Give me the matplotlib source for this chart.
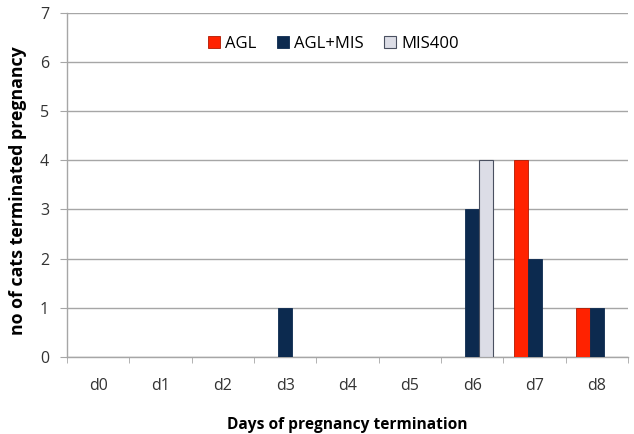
import numpy as np
import matplotlib.pyplot as plt

# -----------------------------
# Data
# -----------------------------
days = ["d0", "d1", "d2", "d3", "d4", "d5", "d6", "d7", "d8"]
agl = [0, 0, 0, 0, 0, 0, 0, 4, 1]
agl_mis = [0, 0, 0, 1, 0, 0, 3, 2, 1]
mis400 = [0, 0, 0, 0, 0, 0, 4, 0, 0]

plt.rcParams['font.family'] = ['Open Sans', 'DejaVu Sans']

fig = plt.figure(figsize=(6.34, 4.34), dpi=100)
ax = fig.add_axes([0.1057, 0.177, 0.885, 0.794])

x = np.arange(len(days))
w = 0.225
grid_c = "#a6a6a6"
txt_c = "#333333"


def nz(v):
    # Excel does not draw zero-height bars
    v = np.asarray(v, float)
    return np.where(v > 0, v, np.nan)


ax.bar(x - w, nz(agl), w, color="#ff2200", edgecolor="#b01800", lw=0.6, label="AGL", zorder=3)
ax.bar(x, nz(agl_mis), w, color="#0c2a4f", edgecolor="#0c2a4f", lw=0.6, label="AGL+MIS", zorder=3)
ax.bar(x + w, nz(mis400), w, color="#dcdde6", edgecolor="#4a5060", lw=0.8, label="MIS400", zorder=3)

ax.set_xlim(-0.5, len(days) - 0.5)
ax.set_ylim(0, 7)
ax.set_yticks(range(0, 8))
ax.set_xticks(x)
ax.set_xticklabels(days)
ax.set_xticks(np.arange(-0.5, len(days)), minor=True)
ax.tick_params(axis="x", which="major", length=0, pad=15, labelsize=11.5, colors=txt_c)
ax.tick_params(axis="x", which="minor", length=4, color=grid_c, direction="out")
ax.tick_params(axis="y", length=5, color=grid_c, labelsize=11.5, colors=txt_c, pad=8)

ax.yaxis.grid(True, color=grid_c, lw=1.0, zorder=0)
ax.set_axisbelow(True)
for s in ["top", "right"]:
    ax.spines[s].set_visible(False)
for s in ["left", "bottom"]:
    ax.spines[s].set_color(grid_c)
    ax.spines[s].set_linewidth(1.0)

ax.set_xlabel("Days of pregnancy termination", fontsize=11.2, fontweight="bold")
ax.xaxis.set_label_coords(0.5, -0.175)
ax.set_ylabel("no of cats terminated pregnancy", fontsize=12.8, fontweight="bold")
ax.yaxis.set_label_coords(-0.072, 0.483)

leg = ax.legend(loc="upper center", bbox_to_anchor=(0.475, 0.975), ncol=3, frameon=False,
                fontsize=12, handlelength=0.75, handleheight=0.75, handletextpad=0.3,
                columnspacing=1.2)

fig.savefig("out.png", dpi=100)
